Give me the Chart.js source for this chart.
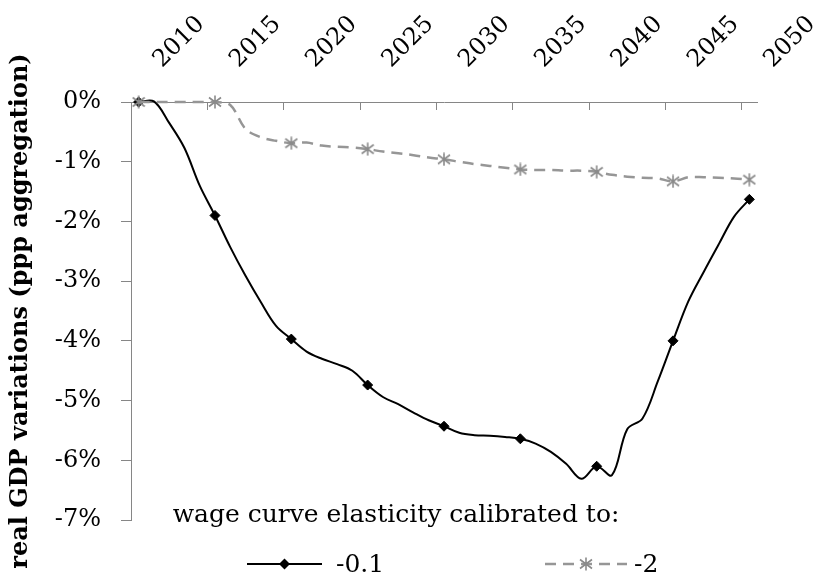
<!DOCTYPE html>
<html><head><meta charset="utf-8">
<script src="https://cdn.jsdelivr.net/npm/chart.js@4/dist/chart.umd.min.js"></script>
<style>html,body{margin:0;padding:0;background:#fff}#wrap{width:823px;height:578px;position:relative}</style>
</head><body><div id="wrap"><canvas id="c"></canvas></div>
<script>
const years = [2010,2011,2012,2013,2014,2015,2016,2017,2018,2019,2020,2021,2022,2023,2024,2025,2026,2027,2028,2029,2030,2031,2032,2033,2034,2035,2036,2037,2038,2039,2040,2041,2042,2043,2044,2045,2046,2047,2048,2049,2050];
const gdpElast01 = [0.00,0.01,-0.35,-0.77,-1.40,-1.90,-2.43,-2.91,-3.35,-3.75,-3.97,-4.18,-4.30,-4.39,-4.50,-4.74,-4.94,-5.06,-5.20,-5.33,-5.43,-5.54,-5.58,-5.59,-5.61,-5.64,-5.72,-5.86,-6.06,-6.31,-6.10,-6.25,-5.48,-5.30,-4.68,-4.00,-3.34,-2.85,-2.38,-1.92,-1.63];
const gdpElast2 = [0,0,0,0,0,0,-0.05,-0.45,-0.59,-0.65,-0.69,-0.68,-0.73,-0.75,-0.76,-0.79,-0.83,-0.86,-0.89,-0.93,-0.96,-1.00,-1.04,-1.07,-1.10,-1.13,-1.14,-1.14,-1.15,-1.15,-1.17,-1.22,-1.25,-1.27,-1.28,-1.33,-1.26,-1.26,-1.27,-1.28,-1.30];
const markerYears = [2010,2015,2020,2025,2030,2035,2040,2045,2050];
const xTickLabels = ['2010','2015','2020','2025','2030','2035','2040','2045','2050'];
const seriesLabels = ['-0.1','-2'];
const yAxisTitle = 'real GDP variations (ppp aggregation)';
const legendTitle = 'wage curve elasticity calibrated to:';

const FONT = '"DejaVu Serif", serif';
const GRAY = '#969696';
const AXIS = '#868686';

function makeStar(color) {
  const c = document.createElement('canvas');
  c.width = 14; c.height = 14;
  const g = c.getContext('2d');
  g.strokeStyle = color; g.lineWidth = 1.6;
  g.beginPath();
  g.moveTo(7, 0.5); g.lineTo(7, 13.5);
  g.moveTo(1, 2.5); g.lineTo(13, 11.5);
  g.moveTo(1, 11.5); g.lineTo(13, 2.5);
  g.stroke();
  return c;
}
const starImg = makeStar('#8a8a8a');

const toPoints = vals => years.map((y, i) => ({x: y, y: vals[i]}));
const markR = r => ctx => markerYears.includes(years[ctx.dataIndex]) ? r : 0;

const legendPlugin = {
  id: 'customLegend',
  afterDraw(chart) {
    const {ctx, chartArea} = chart;
    const ca = chartArea;
    ctx.save();
    ctx.fillStyle = '#000';
    ctx.font = '25px ' + FONT;
    ctx.textAlign = 'center';
    ctx.textBaseline = 'middle';
    ctx.fillText(legendTitle, ca.left + 265, ca.bottom - 5);
    const rowY = ca.bottom + 44;
    const items = [{x0: ca.left + 116, x1: ca.left + 191, gap: 14}, {x0: ca.left + 414, x1: ca.left + 496, gap: 7}];
    chart.data.datasets.forEach((ds, i) => {
      const it = items[i];
      ctx.save();
      ctx.strokeStyle = ds.borderColor;
      ctx.lineWidth = ds.borderWidth;
      ctx.setLineDash(ds.borderDash || []);
      ctx.beginPath(); ctx.moveTo(it.x0, rowY); ctx.lineTo(it.x1, rowY); ctx.stroke();
      ctx.restore();
      const mx = (it.x0 + it.x1) / 2;
      if (ds.pointStyle === 'rectRot') {
        const r = 5.5;
        ctx.fillStyle = ds.pointBackgroundColor;
        ctx.beginPath();
        ctx.moveTo(mx, rowY - r); ctx.lineTo(mx + r, rowY); ctx.lineTo(mx, rowY + r); ctx.lineTo(mx - r, rowY);
        ctx.closePath(); ctx.fill();
      } else {
        ctx.drawImage(ds.pointStyle, mx - ds.pointStyle.width / 2, rowY - ds.pointStyle.height / 2);
      }
      ctx.fillStyle = '#000';
      ctx.textAlign = 'left';
      ctx.font = '25px ' + FONT;
      ctx.fillText(ds.label, it.x1 + it.gap, rowY + 1);
    });
    ctx.restore();
  }
};

new Chart(document.getElementById('c'), {
  type: 'line',
  data: {
    datasets: [
      {
        label: seriesLabels[0], data: toPoints(gdpElast01),
        borderColor: '#000', borderWidth: 2, tension: 0.35,
        pointStyle: 'rectRot', pointRadius: markR(5), pointBackgroundColor: '#000',
        pointBorderColor: '#000', pointBorderWidth: 1, order: 1, clip: false
      },
      {
        label: seriesLabels[1], data: toPoints(gdpElast2),
        borderColor: GRAY, borderWidth: 2.5, borderDash: [11, 7], tension: 0.35,
        pointStyle: starImg, pointRadius: markR(6), order: 0, clip: false
      }
    ]
  },
  options: {
    responsive: true, maintainAspectRatio: false, animation: false, events: [],
    layout: {padding: {left: 0, top: 0, right: 66, bottom: 58}},
    plugins: {legend: {display: false}, tooltip: {enabled: false}},
    scales: {
      x: {
        type: 'linear', position: 'top', min: 2009.5, max: 2050.5, bounds: 'data',
        afterBuildTicks: s => { s.ticks = markerYears.map(y => ({value: y - 0.5})); },
        afterFit: s => { s.height = 102; s.paddingLeft = 0; s.paddingRight = 0; },
        grid: {drawOnChartArea: false, drawTicks: true, tickLength: -8, color: AXIS, lineWidth: 1},
        border: {display: true, color: AXIS, width: 1},
        ticks: {
          autoSkip: false, maxRotation: 45, minRotation: 45, padding: 36, labelOffset: 47,
          color: '#000', font: {family: FONT, size: 24},
          callback: (v, i) => xTickLabels[i]
        }
      },
      y: {
        type: 'linear', min: -7, max: 0,
        afterFit: s => { s.width = 131; },
        grid: {drawOnChartArea: false, drawTicks: true, tickLength: 10, color: AXIS, lineWidth: 1},
        border: {display: true, color: AXIS, width: 1},
        ticks: {stepSize: 1, padding: 20, color: '#000', font: {family: FONT, size: 24},
          callback: v => v + '%'},
        title: {display: true, text: yAxisTitle, color: '#000', padding: {top: 6, bottom: 0},
          font: {family: FONT, size: 24, weight: 'bold'}}
      }
    }
  },
  plugins: [legendPlugin]
});
</script>
</body></html>
